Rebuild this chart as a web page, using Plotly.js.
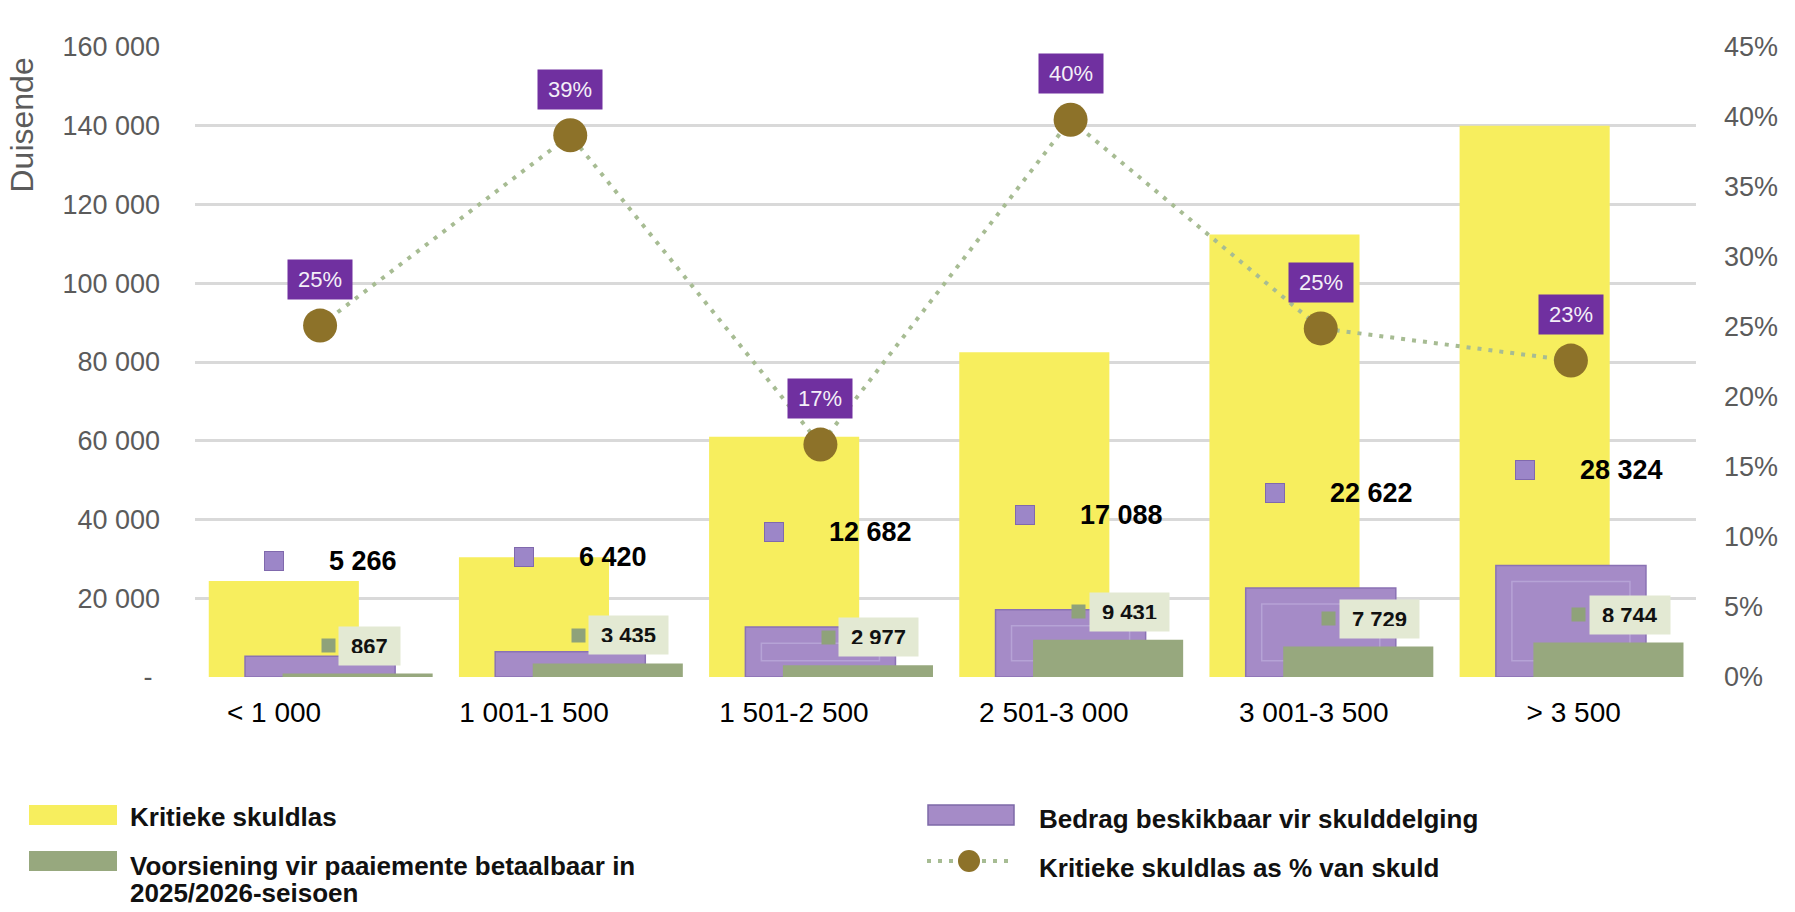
<!DOCTYPE html>
<html>
<head>
<meta charset="utf-8">
<script src="https://cdn.plot.ly/plotly-3.0.1.min.js"></script>
<style>
  html, body { margin: 0; padding: 0; background: #fff; }
  #chart { width: 1795px; height: 912px; }
</style>
</head>
<body>
<div id="chart"></div>
<script>
// Data
const categories = ['< 1 000', '1 001-1 500', '1 501-2 500', '2 501-3 000', '3 001-3 500', '> 3 500'];
const kritiekeSkuldlas = [24400, 30400, 61000, 82500, 112400, 140000];
const bedragBeskikbaar = [5266, 6420, 12682, 17088, 22622, 28324];
const voorsiening = [867, 3435, 2977, 9431, 7729, 8744];
const skuldlasPct = [25.1, 38.7, 16.6, 39.8, 24.9, 22.6];

const leftTicks = [0, 20000, 40000, 60000, 80000, 100000, 120000, 140000, 160000];
const rightTicks = [0, 5, 10, 15, 20, 25, 30, 35, 40, 45];

// Layout helpers (pixel -> paper coordinates)
const W = 1795, H = 912;
const M = { l: 195, r: 99, t: 47, b: 235 };
const plotW = W - M.l - M.r, plotH = H - M.t - M.b;
const px = x => (x - M.l) / plotW;
const py = y => (H - M.b - y) / plotH;

const FONT = 'Liberation Sans, Arial, Helvetica, sans-serif';
const GREY = '#5b5b5b';

const idx = categories.map((_, i) => i);
const fmt = v => String(v).replace(/\B(?=(\d{3})+(?!\d))/g, ' ');

const yellow = '#f7ee5e';
const purple = '#a58bc7';
const green = '#97a87e';
const brown = '#8d7229';
const dotGreen = '#a7bc93';

// inner bevel frame of the purple bars (only where the bar is tall enough)
const bevel = 4100;
const bevelLen = bedragBeskikbaar.map(v => v > 2.5 * bevel ? v - 2 * bevel : null);

const traces = [
  {
    type: 'bar', x: idx, y: kritiekeSkuldlas, width: 0.6, offset: -0.445,
    marker: { color: yellow, line: { width: 0 } }, name: 'Kritieke skuldlas'
  },
  {
    type: 'bar', x: idx, y: bedragBeskikbaar, width: 0.6, offset: -0.3,
    marker: { color: purple, line: { color: '#8a72b4', width: 1.5 } }, name: 'Bedrag beskikbaar vir skulddelging'
  },
  {
    type: 'bar', x: idx, y: bevelLen, base: bevel, width: 0.472, offset: -0.236,
    marker: { color: 'rgba(0,0,0,0)', line: { color: '#b6a3d6', width: 1.5 } },
    hoverinfo: 'skip'
  },
  {
    type: 'bar', x: idx, y: voorsiening, width: 0.6, offset: -0.15,
    marker: { color: green, line: { width: 0 } }, name: 'Voorsiening vir paaiemente betaalbaar in 2025/2026-seisoen'
  },
  {
    type: 'scatter', mode: 'lines+markers', x: idx, y: skuldlasPct, yaxis: 'y2',
    line: { color: dotGreen, width: 4, dash: '4px,7px' },
    marker: { size: 34, color: brown },
    name: 'Kritieke skuldlas as % van skuld'
  }
];

const annotations = [];

// percentage labels
skuldlasPct.forEach((p, i) => {
  annotations.push({
    x: i, y: p, xref: 'x', yref: 'y2', yshift: 46, showarrow: false,
    text: Math.round(p) + '%', bgcolor: '#7030a0', borderpad: 10, height: 19,
    font: { family: FONT, size: 22, color: '#f4eff8' }
  });
});

// purple data labels with legend key
bedragBeskikbaar.forEach((v, i) => {
  annotations.push({
    x: i - 0.184, y: v, xref: 'x', yref: 'y', yshift: 95, showarrow: false,
    text: '\u00a0', width: 18, height: 18, borderpad: 0,
    bgcolor: '#9c86c8', bordercolor: '#8069ad', borderwidth: 1,
    font: { size: 4 }
  });
  annotations.push({
    x: i + 0.028, y: v, xref: 'x', yref: 'y', yshift: 95, showarrow: false,
    xanchor: 'left', text: '<b>' + fmt(v) + '</b>',
    font: { family: FONT, size: 27, color: '#000' }
  });
});

// green data labels with legend key
voorsiening.forEach((v, i) => {
  annotations.push({
    x: i + 0.032, y: v, xref: 'x', yref: 'y', yshift: 28, showarrow: false,
    text: '\u00a0', width: 13, height: 13, borderpad: 0,
    bgcolor: '#8fa27a', font: { size: 4 }
  });
  annotations.push({
    x: i + 0.072, y: v, xref: 'x', yref: 'y', yshift: 28, showarrow: false,
    xanchor: 'left', text: '<b>' + fmt(v) + '</b>',
    bgcolor: '#e3e9d3', borderpad: 12, height: 14,
    font: { family: FONT, size: 22, color: '#111' }
  });
});

// axis title
annotations.push({
  xref: 'paper', yref: 'paper', x: px(21.5), y: py(125), showarrow: false,
  text: 'Duisende', textangle: -90, xanchor: 'center', yanchor: 'middle',
  font: { family: FONT, size: 32, color: GREY }
});

// legend
const legendFont = { family: FONT, size: 26, color: '#111' };
const legendText = [
  ['Kritieke skuldlas', 128, 817],
  ['Voorsiening vir paaiemente betaalbaar in', 128, 866],
  ['2025/2026-seisoen', 128, 893],
  ['Bedrag beskikbaar vir skulddelging', 1037, 819],
  ['Kritieke skuldlas as % van skuld', 1037, 868]
];
legendText.forEach(([t, x, y]) => {
  annotations.push({
    xref: 'paper', yref: 'paper', x: px(x), y: py(y), showarrow: false,
    xanchor: 'left', yanchor: 'middle', text: '<b>' + t + '</b>', font: legendFont
  });
});

const rect = (x0, y0, x1, y1, fill, line) => ({
  type: 'rect', xref: 'paper', yref: 'paper', layer: 'above',
  x0: px(x0), x1: px(x1), y0: py(y1), y1: py(y0),
  fillcolor: fill, line: line || { width: 0 }
});

const shapes = [
  rect(29, 805, 117, 825, yellow),
  rect(29, 851, 117, 871, green),
  rect(928, 805, 1014, 825, purple, { color: '#7d69a8', width: 1.5 }),
  {
    type: 'line', xref: 'paper', yref: 'paper', layer: 'above',
    x0: px(927), x1: px(1012), y0: py(861), y1: py(861),
    line: { color: dotGreen, width: 4, dash: '4px,7px' }
  },
  {
    type: 'circle', xref: 'paper', yref: 'paper', layer: 'above',
    x0: px(958), x1: px(980), y0: py(872), y1: py(850),
    fillcolor: brown, line: { width: 0 }
  }
];

const layout = {
  width: W, height: H,
  margin: M,
  paper_bgcolor: '#fff', plot_bgcolor: '#fff',
  barmode: 'overlay',
  showlegend: false,
  font: { family: FONT },
  xaxis: {
    range: [-0.5, 5.5],
    tickmode: 'array',
    tickvals: idx.map(i => i * 1.039 - 0.184),
    ticktext: categories,
    tickfont: { family: FONT, size: 28, color: '#000' },
    showgrid: false, zeroline: false, showline: false, ticks: '',
    ticklabelstandoff: 16
  },
  yaxis: {
    range: [0, 160000],
    tickmode: 'array',
    tickvals: leftTicks,
    ticktext: leftTicks.map(v => v === 0 ? '-\u00a0' : fmt(v)),
    tickfont: { family: FONT, size: 27, color: GREY },
    gridcolor: '#d9d9d9', gridwidth: 3,
    zeroline: false, showline: false, ticks: '',
    ticklabelstandoff: 34
  },
  yaxis2: {
    overlaying: 'y', side: 'right',
    range: [0, 45],
    tickmode: 'array',
    tickvals: rightTicks,
    ticktext: rightTicks.map(v => v + '%'),
    tickfont: { family: FONT, size: 27, color: GREY },
    showgrid: false, zeroline: false, showline: false, ticks: '',
    ticklabelstandoff: 27
  },
  annotations: annotations,
  shapes: shapes
};

Plotly.newPlot('chart', traces, layout, { displayModeBar: false, staticPlot: true });
</script>
</body>
</html>
